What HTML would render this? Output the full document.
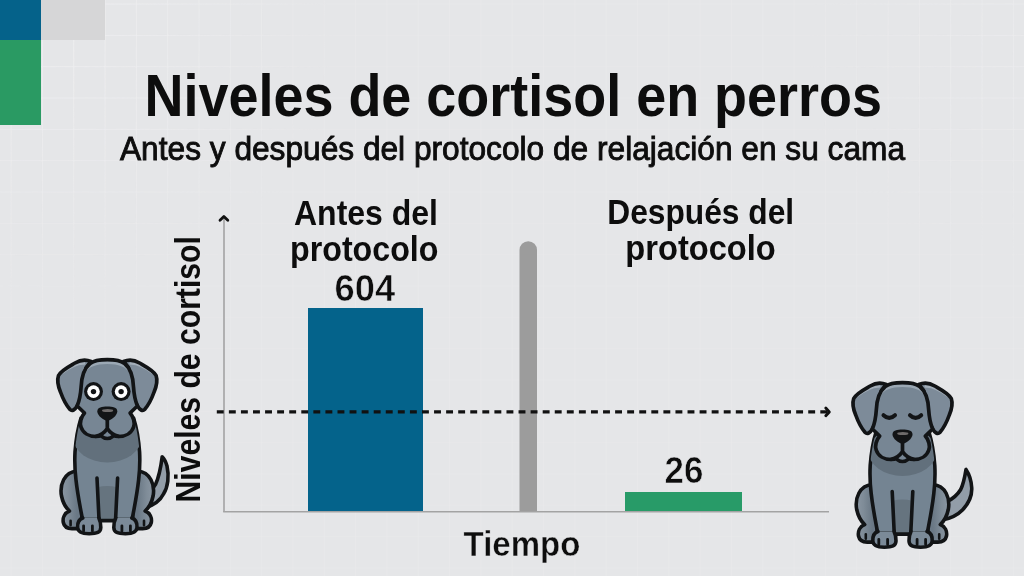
<!DOCTYPE html>
<html><head><meta charset="utf-8"><title>Niveles de cortisol en perros</title>
<style>
html,body{margin:0;padding:0;}
body{width:1024px;height:576px;overflow:hidden;position:relative;background:#e5e6e8;font-family:"Liberation Sans",sans-serif;}
svg{position:absolute;left:0;top:0;display:block;will-change:transform;}
text{font-family:"Liberation Sans",sans-serif;fill:#0d0d0d;}
</style></head><body>
<svg width="1024" height="576" viewBox="0 0 1024 576">
<defs>
<pattern id="grid" x="10.6" y="3.6" width="31.32" height="31.32" patternUnits="userSpaceOnUse">
<path d="M0 0H31.32M0 0V31.32" stroke="#eaeaec" stroke-width="1.2" fill="none"/>
</pattern>
<pattern id="grid2" x="10.6" y="3.6" width="31.32" height="31.32" patternUnits="userSpaceOnUse">
<path d="M0 0H31.32M0 0V31.32" stroke="#f0f0f2" stroke-width="1.4" fill="none"/>
</pattern>
<radialGradient id="gmg1" gradientUnits="userSpaceOnUse" cx="60" cy="30" r="280"><stop offset="0" stop-color="#fff" stop-opacity="1"/><stop offset="1" stop-color="#fff" stop-opacity="0"/></radialGradient>
<radialGradient id="gmg2" gradientUnits="userSpaceOnUse" cx="1000" cy="60" r="200"><stop offset="0" stop-color="#fff" stop-opacity="0.6"/><stop offset="1" stop-color="#fff" stop-opacity="0"/></radialGradient>
<mask id="gmask" maskUnits="userSpaceOnUse" x="0" y="0" width="1024" height="576"><rect width="1024" height="576" fill="url(#gmg1)"/><rect width="1024" height="576" fill="url(#gmg2)"/></mask>
</defs>
<rect width="1024" height="576" fill="#e5e6e8"/>
<rect width="1024" height="576" fill="url(#grid)"/>
<rect width="1024" height="576" fill="url(#grid2)" mask="url(#gmask)"/>
<!-- corner blocks -->
<rect x="0" y="0" width="41" height="40" fill="#05628a"/>
<rect x="0" y="40" width="41" height="85" fill="#2a9a63"/>
<rect x="41" y="0" width="64" height="40" fill="#d6d6d7"/>

<!-- title -->
<text x="144.5" y="116" font-size="59" font-weight="700" textLength="737.5" lengthAdjust="spacingAndGlyphs">Niveles de cortisol en perros</text>
<text x="120" y="159.5" font-size="32.7" stroke="#0d0d0d" stroke-width="0.9" textLength="785" lengthAdjust="spacingAndGlyphs">Antes y después del protocolo de relajación en su cama</text>

<!-- bars -->
<rect x="308" y="308" width="115" height="203" fill="#04638b"/>
<path d="M519.5 511 V250 A8.75 8.75 0 0 1 537 250 V511 Z" fill="#9c9c9c"/>
<rect x="625" y="492" width="117" height="19" fill="#289b68"/>

<!-- axes -->
<line x1="224" y1="217" x2="224" y2="512" stroke="#a3a3a3" stroke-width="1.6"/>
<line x1="223.2" y1="511.8" x2="829" y2="511.8" stroke="#a3a3a3" stroke-width="1.6"/>
<path d="M220 220.2 L223.9 216.4 L227.8 220.2" stroke="#111" stroke-width="2.8" fill="none" stroke-linecap="round" stroke-linejoin="round"/>

<!-- dashed line -->
<line x1="216.8" y1="411.9" x2="827" y2="411.9" stroke="#111" stroke-width="3.2" stroke-dasharray="6.9 5.17"/>
<path d="M825.8 408.1 L829.3 411.9 L825.8 415.7" stroke="#111" stroke-width="2.9" fill="none" stroke-linecap="round" stroke-linejoin="round"/>

<!-- labels -->
<text x="294" y="224.6" font-size="34.3" font-weight="700" textLength="144" lengthAdjust="spacingAndGlyphs">Antes del</text>
<text x="290" y="261" font-size="34.3" font-weight="700" textLength="148.5" lengthAdjust="spacingAndGlyphs">protocolo</text>
<text x="334.5" y="301.2" font-size="37" font-weight="700" stroke="#e5e6e8" stroke-width="0.6" textLength="60.6" lengthAdjust="spacingAndGlyphs">604</text>
<text x="607.3" y="224.3" font-size="34.3" font-weight="700" textLength="186.8" lengthAdjust="spacingAndGlyphs">Después del</text>
<text x="625.3" y="259.5" font-size="34.3" font-weight="700" textLength="150.5" lengthAdjust="spacingAndGlyphs">protocolo</text>
<text x="664.6" y="482.6" font-size="36.8" font-weight="700" stroke="#e5e6e8" stroke-width="0.6" textLength="38.8" lengthAdjust="spacingAndGlyphs">26</text>
<text x="463.6" y="556.3" font-size="35.8" font-weight="700" stroke="#e5e6e8" stroke-width="0.4" textLength="116.8" lengthAdjust="spacingAndGlyphs">Tiempo</text>
<text transform="translate(199.7 502.4) rotate(-90)" x="0" y="0" font-size="34.3" font-weight="700" textLength="266.2" lengthAdjust="spacingAndGlyphs">Niveles de cortisol</text>

<!-- ================= DOGS ================= -->
<defs>
<linearGradient id="hauL" gradientUnits="userSpaceOnUse" x1="61" y1="0" x2="77" y2="0"><stop offset="0" stop-color="#8a96a2"/><stop offset="0.45" stop-color="#7f8c98"/><stop offset="1" stop-color="#6a7885"/></linearGradient>
<linearGradient id="hauR" gradientUnits="userSpaceOnUse" x1="153.6" y1="0" x2="137.6" y2="0"><stop offset="0" stop-color="#8a96a2"/><stop offset="0.45" stop-color="#7f8c98"/><stop offset="1" stop-color="#6a7885"/></linearGradient>
<clipPath id="torsoclip"><path d="M81 418 C78.5 426 76 438 75 452 C74.5 462 75 472 76 480 C77.5 494 80 506 82.5 519.5 L132.1 519.5 C134.6 506 137.1 494 138.6 480 C139.6 472 140.1 462 139.6 452 C138.6 438 136.1 426 133.6 418 Z"/></clipPath>
<g id="dogbody" stroke="#121416" stroke-width="3.6" stroke-linejoin="round" stroke-linecap="round">
 <!-- haunches + back paws -->
 <path d="M77 471 C64 472 59.5 485 61.5 496 C63 503 66 508 69.5 511 C64.5 513 62.5 518 63.3 522.5 C64.3 527 68 528.6 72 528.6 L82 528.6 L82 471 Z" fill="url(#hauL)"/>
 <path d="M137.6 471 C150.6 472 155.1 485 153.1 496 C151.6 503 148.6 508 145.1 511 C150.1 513 152.1 518 151.3 522.5 C150.3 527 146.6 528.6 142.6 528.6 L132.6 528.6 L132.6 471 Z" fill="url(#hauR)"/>
 <path d="M70.6 520.8 V525.3 M144 520.8 V525.3" fill="none" stroke-width="2.6"/>
 <!-- torso -->
 <path d="M81 418 C78.5 426 76 438 75 452 C74.5 462 75 472 76 480 C77.5 494 80 506 82.5 519.5 L132.1 519.5 C134.6 506 137.1 494 138.6 480 C139.6 472 140.1 462 139.6 452 C138.6 438 136.1 426 133.6 418 Z" fill="#748492"/>
 <g clip-path="url(#torsoclip)" stroke="none">
  <ellipse cx="107.3" cy="438" rx="34" ry="24.4" fill="#62707c"/>
  <path d="M97.5 520 L97.5 487.2 Q107.3 485 117 487.2 L117 520 Z" fill="#66747f"/>
 </g>
 <path d="M97 478 L99 519 M117.6 478 L115.6 519" fill="none"/>
 <path d="M97 520.6 H117" fill="none"/>
 <!-- front paws -->
 <path d="M82.8 518 C78.3 519.5 77.4 524 77.6 527.5 C77.9 532 81.5 533.7 89.2 533.7 C96.9 533.7 100.6 532.5 100.8 527.5 C101 523 99.8 520 98.8 518" fill="#7b8a98"/>
 <path d="M131.8 518 C136.3 519.5 137.2 524 137 527.5 C136.7 532 133.1 533.7 125.4 533.7 C117.7 533.7 114 532.5 113.8 527.5 C113.6 523 114.8 520 115.8 518" fill="#7b8a98"/>
 <path d="M83.6 525.8 V531 M92.4 525.8 V531 M121.9 525.8 V531 M130.4 525.8 V531" fill="none" stroke-width="2.8"/>
</g>
<clipPath id="headclip"><path d="M107.3 359.6 C99 359.6 94 360.3 90 363.5 C84.5 368 81.6 376 81.1 387 C80.6 395 79.2 401 77.2 406 L84.5 413 C81 417 79.5 423 81 427 C83 433 89 436.5 96 436.5 C99 436.5 100.5 436 101 435.8 C103 437.5 105 438.5 107.3 438.5 C109.6 438.5 111.6 437.5 113.6 435.8 C114.1 436 115.6 436.5 118.6 436.5 C125.6 436.5 131.6 433 133.6 427 C135.1 423 133.6 417 130.1 413 L137.4 406 C135.4 401 134 395 133.5 387 C133 376 130.1 368 124.6 363.5 C120.6 360.3 115.6 359.6 107.3 359.6 Z"/></clipPath>
<clipPath id="earclipL"><path d="M91 361.5 C86 359.3 80 360 75 363 C68 367 61 370.5 58.5 375.5 C57 380 58 386 60.5 392 C63 399 66 405 70 409.5 C72 411.5 75 410 77 406 L82 398 L86 368 Z"/></clipPath>
<clipPath id="earclipR"><path d="M123.6 361.5 C128.6 359.3 134.6 360 139.6 363 C146.6 367 153.6 370.5 156.1 375.5 C157.6 380 156.6 386 154.1 392 C151.6 399 148.6 405 144.6 409.5 C142.6 411.5 139.6 410 137.6 406 L132.6 398 L128.6 368 Z"/></clipPath>
<g id="doghead" stroke="#121416" stroke-width="3.7" stroke-linejoin="round" stroke-linecap="round">
 <!-- ears -->
 <path d="M91 361.5 C86 359.3 80 360 75 363 C68 367 61 370.5 58.5 375.5 C57 380 58 386 60.5 392 C63 399 66 405 70 409.5 C72 411.5 75 410 77 406 L82 398 L86 368 Z" fill="#7d8b99" stroke="none"/>
 <path d="M123.6 361.5 C128.6 359.3 134.6 360 139.6 363 C146.6 367 153.6 370.5 156.1 375.5 C157.6 380 156.6 386 154.1 392 C151.6 399 148.6 405 144.6 409.5 C142.6 411.5 139.6 410 137.6 406 L132.6 398 L128.6 368 Z" fill="#7d8b99" stroke="none"/>
 <path d="M84 363.5 C78 363 70 367 62.5 372.5 M130.6 363.5 C136.6 363 144.6 367 152.1 372.5" fill="none" stroke="#a3aeb9" stroke-width="2.6"/>
 <path d="M91 361.5 C86 359.3 80 360 75 363 C68 367 61 370.5 58.5 375.5 C57 380 58 386 60.5 392 C63 399 66 405 70 409.5 C72 411.5 75 410 77 406 L82 398 L86 368 Z" fill="none"/>
 <path d="M123.6 361.5 C128.6 359.3 134.6 360 139.6 363 C146.6 367 153.6 370.5 156.1 375.5 C157.6 380 156.6 386 154.1 392 C151.6 399 148.6 405 144.6 409.5 C142.6 411.5 139.6 410 137.6 406 L132.6 398 L128.6 368 Z" fill="none"/>
 <!-- head -->
 <path d="M107.3 359.6 C99 359.6 94 360.3 90 363.5 C84.5 368 81.6 376 81.1 387 C80.6 395 79.2 401 77.2 406 L84.5 413 C81 417 79.5 423 81 427 C83 433 89 436.5 96 436.5 C99 436.5 100.5 436 101 435.8 C103 437.5 105 438.5 107.3 438.5 C109.6 438.5 111.6 437.5 113.6 435.8 C114.1 436 115.6 436.5 118.6 436.5 C125.6 436.5 131.6 433 133.6 427 C135.1 423 133.6 417 130.1 413 L137.4 406 C135.4 401 134 395 133.5 387 C133 376 130.1 368 124.6 363.5 C120.6 360.3 115.6 359.6 107.3 359.6 Z" fill="#778694" stroke="none"/>
 <g clip-path="url(#headclip)">
  <path d="M84.5 372 C88 365 96 362.6 107.3 362.6 C118.6 362.6 126.6 365 130.1 372" fill="none" stroke="#9ba8b4" stroke-width="2.8"/>
 </g>
 <path d="M107.3 359.6 C99 359.6 94 360.3 90 363.5 C84.5 368 81.6 376 81.1 387 C80.6 395 79.2 401 77.2 406 L84.5 413 C81 417 79.5 423 81 427 C83 433 89 436.5 96 436.5 C99 436.5 100.5 436 101 435.8 C103 437.5 105 438.5 107.3 438.5 C109.6 438.5 111.6 437.5 113.6 435.8 C114.1 436 115.6 436.5 118.6 436.5 C125.6 436.5 131.6 433 133.6 427 C135.1 423 133.6 417 130.1 413 L137.4 406 C135.4 401 134 395 133.5 387 C133 376 130.1 368 124.6 363.5 C120.6 360.3 115.6 359.6 107.3 359.6 Z" fill="none"/>
 <!-- mouth -->
 <path d="M107.3 419 L107.3 428.5 M107.3 428.5 C105 432 101.5 435 96 436.3 M107.3 428.5 C109.6 432 113.1 435 118.6 436.3" fill="none"/>
 <!-- nose -->
 <path d="M97.3 411.5 C97.3 407.3 102 406.6 107.3 406.6 C112.6 406.6 117.3 407.3 117.3 411.5 C117.3 415.5 111 420.7 107.3 420.7 C103.6 420.7 97.3 415.5 97.3 411.5 Z" fill="#121416" stroke="none"/>
 <ellipse cx="107.6" cy="410.6" rx="5.6" ry="1.5" fill="#6e6b6b" stroke="none"/>
</g>
</defs>

<!-- left dog -->
<path d="M145 508 C153 505.5 160 501 163.5 494 C168 487 169.3 476 167 466 C165.5 461 164 458.5 162.2 456.8 C161 466 159.5 476 155.5 484.5 C153 489 149 492 144 494 Z" fill="#929da8" stroke="#121416" stroke-width="3.6" stroke-linejoin="round"/>
<use href="#dogbody"/>
<use href="#doghead"/>
<g>
 <circle cx="93.5" cy="391.6" r="9.5" fill="#121416"/><circle cx="93.5" cy="391.6" r="6.3" fill="#fff"/><circle cx="93.5" cy="391.6" r="2.7" fill="#121416"/>
 <circle cx="121.1" cy="391.6" r="9.5" fill="#121416"/><circle cx="121.1" cy="391.6" r="6.3" fill="#fff"/><circle cx="121.1" cy="391.6" r="2.7" fill="#121416"/>
</g>

<!-- right dog -->
<g transform="translate(795.2 13.5)">
 <path d="M146 506.8 C155 505.3 163 501 167.5 496.3 C173 490.3 177 482 176.5 474 C176 466 173.5 460 170.8 456 C169.5 464 168.5 470 165.5 476 C162.5 481 158 485 152 488 L146 490 Z" fill="#929da8" stroke="#121416" stroke-width="3.6" stroke-linejoin="round"/>
 <use href="#dogbody"/>
</g>
<g transform="translate(795.2 23)">
 <use href="#doghead"/>
 <path d="M88.3 392.2 Q94 397.6 99.8 392.2 M114.8 392.2 Q120.4 397.6 126 392.2" fill="none" stroke="#121416" stroke-width="4" stroke-linecap="round"/>
</g>

</svg>
</body></html>
